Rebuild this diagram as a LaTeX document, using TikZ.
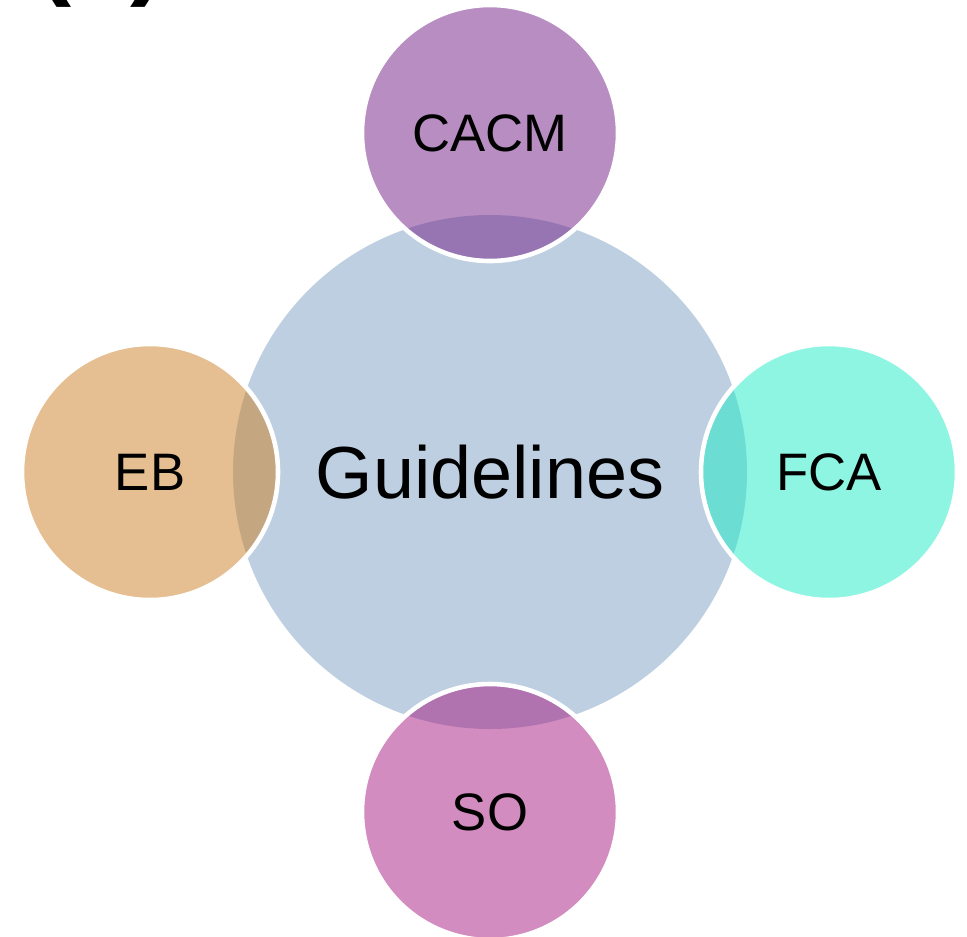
\documentclass[tikz,border=0pt]{standalone}
\usepackage{fontspec}
\setmainfont{Liberation Sans}
\usepackage{xcolor}
\definecolor{guidec}{RGB}{189,207,225}
\definecolor{cacmc}{RGB}{113,29,133}
\definecolor{ebc}{RGB}{203,127,35}
\definecolor{fcac}{RGB}{29,235,197}
\definecolor{soc}{RGB}{167,25,129}
\tikzset{bubble/.style={circle, minimum size=5.12cm, inner sep=0pt, draw=white, line width=2.6pt, fill opacity=0.5, draw opacity=1, text opacity=1, font=\fontsize{30}{36}\selectfont}}

\begin{document}
\begin{tikzpicture}
      \useasboundingbox (0,0) rectangle (19.34,-18.72);
      \node [circle, fill=guidec, minimum size=10.28cm, inner sep=0pt, font=\fontsize{42}{50}\selectfont] (guide) at (9.8,-9.44) {Guidelines};
      \node [bubble, fill=cacmc] (cacm) at (9.8,-2.66) {CACM};
      \node [bubble, fill=ebc] (eb) at (3.0,-9.44) {EB};
      \node [bubble, fill=fcac] (fca) at (16.58,-9.44) {FCA};
      \node [bubble, fill=soc] (so) at (9.8,-16.24) {SO};
      \node [anchor=base west, inner sep=0pt, font=\bfseries\fontsize{60}{72}\selectfont] (lab) at (0.72,0.3) {(a)};
    \end{tikzpicture}
\end{document}
